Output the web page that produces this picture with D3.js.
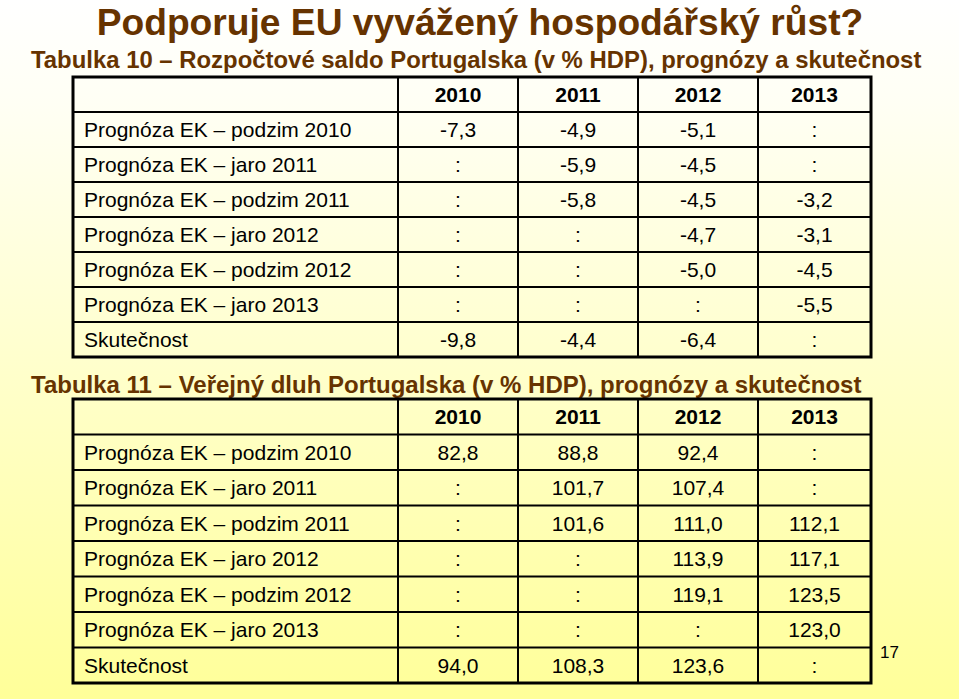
<!DOCTYPE html>
<html>
<head>
<meta charset="utf-8">
<style>
    html, body { margin: 0; padding: 0; }
    body { font-family: "Liberation Sans", Arial, Helvetica, sans-serif; }
    svg { display: block; }
</style>
</head>
<body>
<svg width="959" height="699"></svg>
<script src="https://d3js.org/d3.v7.min.js"></script>
<script>

    // data
    var years = ["2010", "2011", "2012", "2013"];

    var rowLabels = [
        "Prognóza EK – podzim 2010",
        "Prognóza EK – jaro 2011",
        "Prognóza EK – podzim 2011",
        "Prognóza EK – jaro 2012",
        "Prognóza EK – podzim 2012",
        "Prognóza EK – jaro 2013",
        "Skutečnost"
    ];

    // Tabulka 10 - saldo (":" = no value)
    var saldo = [
        ["-7,3", "-4,9", "-5,1", ":"],
        [":", "-5,9", "-4,5", ":"],
        [":", "-5,8", "-4,5", "-3,2"],
        [":", ":", "-4,7", "-3,1"],
        [":", ":", "-5,0", "-4,5"],
        [":", ":", ":", "-5,5"],
        ["-9,8", "-4,4", "-6,4", ":"]
    ];

    // Tabulka 11 - dluh
    var dluh = [
        ["82,8", "88,8", "92,4", ":"],
        [":", "101,7", "107,4", ":"],
        [":", "101,6", "111,0", "112,1"],
        [":", ":", "113,9", "117,1"],
        [":", ":", "119,1", "123,5"],
        [":", ":", ":", "123,0"],
        ["94,0", "108,3", "123,6", ":"]
    ];

    var slideTitle = "Podporuje EU vyvážený hospodářský růst?";
    var title10 = "Tabulka 10 – Rozpočtové saldo Portugalska (v % HDP), prognózy a skutečnost";
    var title11 = "Tabulka 11 – Veřejný dluh Portugalska (v % HDP), prognózy a skutečnost";
    var pageNo = "17";

    var svg = d3.select("svg"),
        W = +svg.attr("width"),
        H = +svg.attr("height");

    var brown = "#663300";

    // background gradient
    var grad = svg.append("defs").append("linearGradient")
        .attr("id", "bg")
        .attr("x1", 0).attr("y1", 0).attr("x2", 0).attr("y2", 1);
    grad.append("stop").attr("offset", "0%").attr("stop-color", "#ffffff");
    grad.append("stop").attr("offset", "15%").attr("stop-color", "#fffff4");
    grad.append("stop").attr("offset", "100%").attr("stop-color", "#ffff99");

    svg.append("rect")
        .attr("width", W)
        .attr("height", H)
        .attr("fill", "url(#bg)");

    svg.append("text")
        .attr("x", 480)
        .attr("y", 35)
        .attr("text-anchor", "middle")
        .attr("fill", brown)
        .style("font-size", "37.2px")
        .style("font-weight", "bold")
        .text(slideTitle);

    // column edges: label column + one per year
    var colEdges = [73, 398, 518, 638, 758, 871];
    var colX = d3.scaleOrdinal()
        .domain(["label"].concat(years))
        .range(colEdges.slice(0, -1));
    function colW(k) {
        var i = ["label"].concat(years).indexOf(k);
        return colEdges[i + 1] - colEdges[i];
    }

    function drawTable(top, bottom, titleText, titleY, titleSize, values) {
        svg.append("text")
            .attr("x", 31)
            .attr("y", titleY)
            .attr("fill", brown)
            .style("font-size", titleSize + "px")
            .style("font-weight", "bold")
            .text(titleText);

        var rows = ["header"].concat(rowLabels);
        var y = d3.scaleBand()
            .domain(rows)
            .range([top, bottom]);

        var g = svg.append("g");

        // inner horizontal lines
        g.selectAll("line.h")
            .data(rows.slice(1))
            .enter().append("line")
            .attr("x1", colEdges[0])
            .attr("x2", colEdges[colEdges.length - 1])
            .attr("y1", function(d) { return y(d); })
            .attr("y2", function(d) { return y(d); })
            .attr("stroke", "#000")
            .attr("stroke-width", 2);

        // inner vertical lines
        g.selectAll("line.v")
            .data(years)
            .enter().append("line")
            .attr("x1", function(d) { return colX(d); })
            .attr("x2", function(d) { return colX(d); })
            .attr("y1", top)
            .attr("y2", bottom)
            .attr("stroke", "#000")
            .attr("stroke-width", 2);

        // outer border
        g.append("rect")
            .attr("x", colEdges[0])
            .attr("y", top)
            .attr("width", colEdges[colEdges.length - 1] - colEdges[0])
            .attr("height", bottom - top)
            .attr("fill", "none")
            .attr("stroke", "#000")
            .attr("stroke-width", 3);

        // header
        g.selectAll("text.year")
            .data(years)
            .enter().append("text")
            .attr("x", function(d) { return colX(d) + colW(d) / 2; })
            .attr("y", y("header") + y.bandwidth() / 2)
            .attr("dy", "0.36em")
            .attr("text-anchor", "middle")
            .style("font-size", "21px")
            .style("font-weight", "bold")
            .attr("fill", "#000")
            .text(function(d) { return d; });

        // row labels
        g.selectAll("text.lab")
            .data(rowLabels)
            .enter().append("text")
            .attr("x", colX("label") + 11)
            .attr("y", function(d) { return y(d) + y.bandwidth() / 2; })
            .attr("dy", "0.36em")
            .style("font-size", "21px")
            .attr("fill", "#000")
            .text(function(d) { return d; });

        // cell values
        var cells = [];
        values.forEach(function(row, i) {
            row.forEach(function(v, j) {
                cells.push({ row: rowLabels[i], year: years[j], v: v });
            });
        });
        g.selectAll("text.val")
            .data(cells)
            .enter().append("text")
            .attr("x", function(d) { return colX(d.year) + colW(d.year) / 2; })
            .attr("y", function(d) { return y(d.row) + y.bandwidth() / 2; })
            .attr("dy", "0.36em")
            .attr("text-anchor", "middle")
            .style("font-size", "21px")
            .attr("fill", "#000")
            .text(function(d) { return d.v; });
    }

    drawTable(77, 357, title10, 68, 23.9, saldo);
    drawTable(399, 683, title11, 393, 24, dluh);

    svg.append("text")
        .attr("x", 880)
        .attr("y", 658)
        .style("font-size", "17px")
        .attr("fill", "#000")
        .text(pageNo);

</script>
</body>
</html>
